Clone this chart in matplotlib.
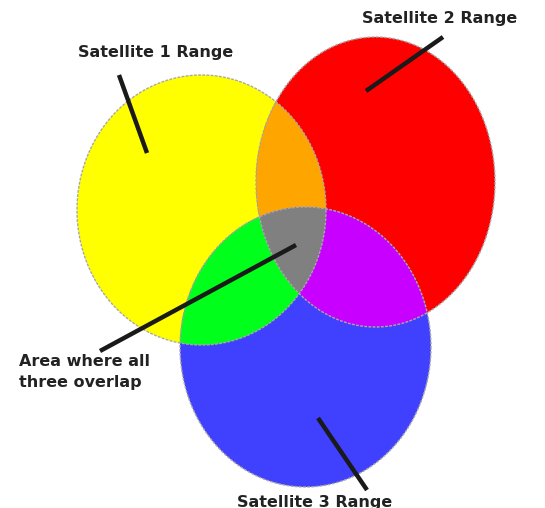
import numpy as np
import matplotlib.pyplot as plt
from matplotlib.patches import Polygon
from matplotlib.path import Path

# ellipse parameters in image pixel coords: (cx, cy, rx, ry)
ranges = {
    "sat1": (201.5, 210, 124.5, 135),
    "sat2": (375.5, 182, 119.5, 145),
    "sat3": (305.5, 347, 125.5, 140),
}
fill_colors = {
    "sat1": "#ffff00",
    "sat2": "#ff0000",
    "sat3": "#4040ff",
    "sat1_sat2": "#ffa500",
    "sat1_sat3": "#00ff1a",
    "sat2_sat3": "#c800ff",
    "all": "#808080",
}

labels = ["Satellite 1 Range", "Satellite 2 Range", "Satellite 3 Range",
          "Area where all\nthree overlap"]
label_pos = [(156, 52), (440, 18), (315, 502), (19, 372)]
pointers = [((119, 75), (147, 153)),
            ((443, 37), (366, 91)),
            ((318, 418), (367, 490)),
            ((296, 245), (100, 351))]


def ellipse_pts(cx, cy, rx, ry, n=1500):
    t = np.linspace(0, 2 * np.pi, n, endpoint=False)
    return np.column_stack([cx + rx * np.cos(t), cy + ry * np.sin(t)])


def intersect(a, b):
    # both convex: keep points of each boundary inside the other, sort by angle
    pa, pb = Path(a), Path(b)
    pts = np.vstack([a[pb.contains_points(a)], b[pa.contains_points(b)]])
    c = pts.mean(axis=0)
    ang = np.arctan2(pts[:, 1] - c[1], pts[:, 0] - c[0])
    return pts[np.argsort(ang)]


e1 = ellipse_pts(*ranges["sat1"])
e2 = ellipse_pts(*ranges["sat2"])
e3 = ellipse_pts(*ranges["sat3"])
i12 = intersect(e1, e2)
i13 = intersect(e1, e3)
i23 = intersect(e2, e3)
i123 = intersect(i12, e3)

fig = plt.figure(figsize=(5.45, 5.08), dpi=100)
ax = fig.add_axes([0, 0, 1, 1])
ax.set_xlim(0, 545)
ax.set_ylim(508, 0)
ax.axis("off")

for pts, key in [(e1, "sat1"), (e2, "sat2"), (e3, "sat3"),
                 (i12, "sat1_sat2"), (i13, "sat1_sat3"), (i23, "sat2_sat3"),
                 (i123, "all")]:
    ax.add_patch(Polygon(pts, closed=True, facecolor=fill_colors[key],
                         edgecolor="none"))

# dotted grey outlines
for pts in [e1, e2, e3]:
    ax.add_patch(Polygon(pts, closed=True, fill=False, edgecolor="#a8a8a8",
                         lw=1.0, linestyle=(0, (2, 1))))

for (x0, y0), (x1, y1) in pointers:
    ax.plot([x0, x1], [y0, y1], color="#1a1a1a", lw=3.2,
            solid_capstyle="butt")

for i, (txt, (x, y)) in enumerate(zip(labels, label_pos)):
    if i == 3:
        ax.text(x, y, txt, ha="left", va="center", fontsize=11.5,
                fontweight="heavy", color="#222222", linespacing=1.45)
    else:
        ax.text(x, y, txt, ha="center", va="center", fontsize=11.5,
                fontweight="heavy", color="#222222")

fig.savefig("out.png", dpi=100)
